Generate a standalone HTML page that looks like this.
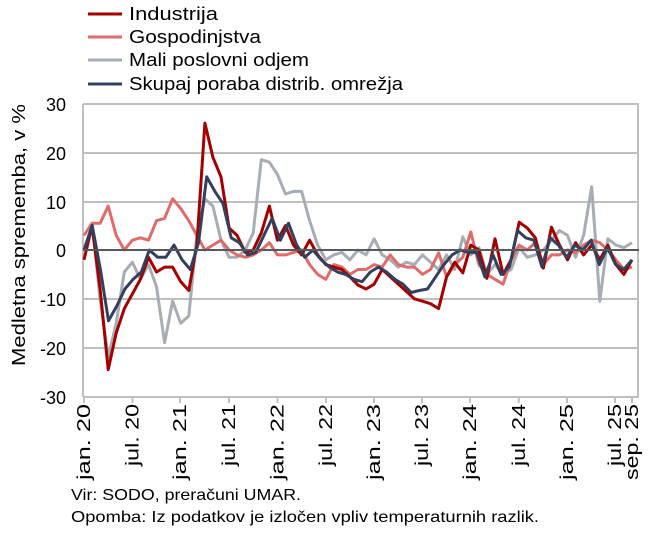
<!DOCTYPE html>
<html><head><meta charset="utf-8"><style>
body{margin:0;background:#fff;width:651px;height:532px;overflow:hidden;font-family:"Liberation Sans",sans-serif;}
svg text{font-family:"Liberation Sans",sans-serif;fill:#000;}
</style></head><body>
<svg id="s" width="651" height="532" xmlns="http://www.w3.org/2000/svg">
<g stroke="#BFBFBF" stroke-width="2">
<line x1="83" y1="104" x2="639" y2="104"/>
<line x1="83" y1="153" x2="639" y2="153"/>
<line x1="83" y1="202" x2="639" y2="202"/>
<line x1="83" y1="299" x2="639" y2="299"/>
<line x1="83" y1="348" x2="639" y2="348"/>
<line x1="83" y1="397" x2="639" y2="397"/>
<line x1="83" y1="104" x2="83" y2="397"/>
<line x1="638" y1="104" x2="638" y2="397"/>
<g id="ticks"></g>
</g>
<g id="series"></g>
<line x1="83" y1="250" x2="639" y2="250" stroke="#595959" stroke-width="2"/>
<g font-size="18" text-anchor="end">
<text x="66" y="111">30</text><text x="66" y="160">20</text><text x="66" y="209">10</text>
<text x="66" y="257">0</text><text x="66" y="306">-10</text><text x="66" y="355">-20</text><text x="66" y="404">-30</text>
</g>
<text transform="translate(25,235) rotate(-90)" font-size="18" text-anchor="middle" textLength="262" lengthAdjust="spacingAndGlyphs">Medletna sprememba, v %</text>
<g id="xl" font-size="18" text-anchor="end"></g>
<g stroke-width="3">
<line x1="88" y1="14" x2="122" y2="14" stroke="#A50000"/>
<line x1="88" y1="37" x2="122" y2="37" stroke="#E06B6B"/>
<line x1="88" y1="60" x2="122" y2="60" stroke="#A6ADB4"/>
<line x1="88" y1="84" x2="122" y2="84" stroke="#333F5C"/>
</g>
<g font-size="18">
<text x="129" y="20" textLength="89" lengthAdjust="spacingAndGlyphs">Industrija</text>
<text x="129" y="43" textLength="132" lengthAdjust="spacingAndGlyphs">Gospodinjstva</text>
<text x="129" y="66" textLength="180" lengthAdjust="spacingAndGlyphs">Mali poslovni odjem</text>
<text x="129" y="90" textLength="274" lengthAdjust="spacingAndGlyphs">Skupaj poraba distrib. omrežja</text>
</g>
<g font-size="16">
<text x="71" y="500" textLength="230" lengthAdjust="spacingAndGlyphs">Vir: SODO, preračuni UMAR.</text>
<text x="71" y="522" textLength="468" lengthAdjust="spacingAndGlyphs">Opomba: Iz podatkov je izločen vpliv temperaturnih razlik.</text>
</g>
</svg>
<script>
var ns="http://www.w3.org/2000/svg";
function Y(v){return 250-v*4.88;}
var tx=[84,132.5,180,229,277.5,326,374,422,470,518.8,567,615,632];
var lb=["jan. 20","jul. 20","jan. 21","jul. 21","jan. 22","jul. 22","jan. 23","jul. 23","jan. 24","jul. 24","jan. 25","jul. 25","sep. 25"];
var lw=[76,62,76,62,76,62,76,62,76,62,76,62,76];
var tk=document.getElementById("ticks"),xl=document.getElementById("xl");
tx.forEach(function(x,i){var l=document.createElementNS(ns,"line");l.setAttribute("x1",x);l.setAttribute("x2",x);l.setAttribute("y1",397);l.setAttribute("y2",403);tk.appendChild(l);
var t=document.createElementNS(ns,"text");t.setAttribute("transform","translate("+(x+6)+",404) rotate(-90)");t.setAttribute("textLength",lw[i]);t.setAttribute("lengthAdjust","spacingAndGlyphs");t.textContent=lb[i];xl.appendChild(t);});
var ind=[-2,5,-8,-24.5,-17,-12,-9,-6,-1.5,-4.5,-3.5,-3.5,-6.5,-8.3,1,26,19,15,4.5,3,-0.5,0,3.5,9,2,5,1,-1,2,-1,-3,-3.5,-4,-5.5,-7.2,-8,-7,-4,-5.5,-7,-8.5,-10,-10.5,-11,-12,-5.5,-2.5,-4.7,1,0,-5.8,2.3,-5,-2,5.7,4.5,2.5,-3.7,4.7,1,-2,1.5,-1,1,-2,1,-3,-5,-2];
var gos=[3,5.5,5.5,9,3,0,2,2.5,2,6,6.5,10.5,8.5,6,3,0,1,2,0,-1,-1.5,-1,0,1.5,-1,-1,-0.5,0,-3,-5,-6,-3,-3.5,-5,-4,-4,-3,-3.5,-1,-3,-3.5,-3.5,-5,-4,-0.6,-5.5,-3,-1.5,3.7,-3,-5,-6,-7,-2,1,0,1.5,-3,-1,-1,0,-0.5,1,2,1.5,0,-2,-4,-3.5];
var mal=[0,5,-10,-22,-15,-4.5,-2.5,-6,-3,-7.5,-19,-10.5,-15,-13.5,3,10.5,9,2,-1.5,-1.5,0,3.5,18.5,18,15.5,11.5,12,12,6,1,-2,-1,-0.5,-2,0,-1,2.3,-1,-2,-3.5,-2.5,-3,-1,-2.5,-4,-1,-4,2.7,-1,0.5,-5,-3,-5,-4,0.5,-1.5,-1,0,2,4,3,-1.5,3,13,-10.5,2.3,1,0.5,1.5];
var sk=[0,5,-4,-14.5,-11.5,-8,-6,-4.5,0,-1.5,-1.5,1,-2,-4,1.5,15,12,9.5,2.5,1.5,-1,-0.5,3,6.5,2,5.5,1,-1.5,0,-2,-3.5,-4.5,-5,-6,-6.5,-4.5,-3.5,-4.5,-6,-7,-8.7,-8.3,-8,-5.5,-3,-1,0,-0.5,-0.5,-5.5,-1,-5,-3.5,4,2.5,2,-3.5,2.5,1,-1.5,1,0,2,-3,0.5,-3,-4,-2];
var sg=document.getElementById("series");
[[mal,"#A6ADB4"],[gos,"#E06B6B"],[ind,"#A50000"],[sk,"#333F5C"]].forEach(function(s){
var pts=s[0].map(function(v,i){var x=84+i*(632-84)/(s[0].length-1);return x.toFixed(1)+","+Y(v).toFixed(1);}).join(" ");
var p=document.createElementNS(ns,"polyline");p.setAttribute("points",pts);p.setAttribute("fill","none");p.setAttribute("stroke",s[1]);p.setAttribute("stroke-width","3");p.setAttribute("stroke-linejoin","round");sg.appendChild(p);});
</script>
</body></html>
